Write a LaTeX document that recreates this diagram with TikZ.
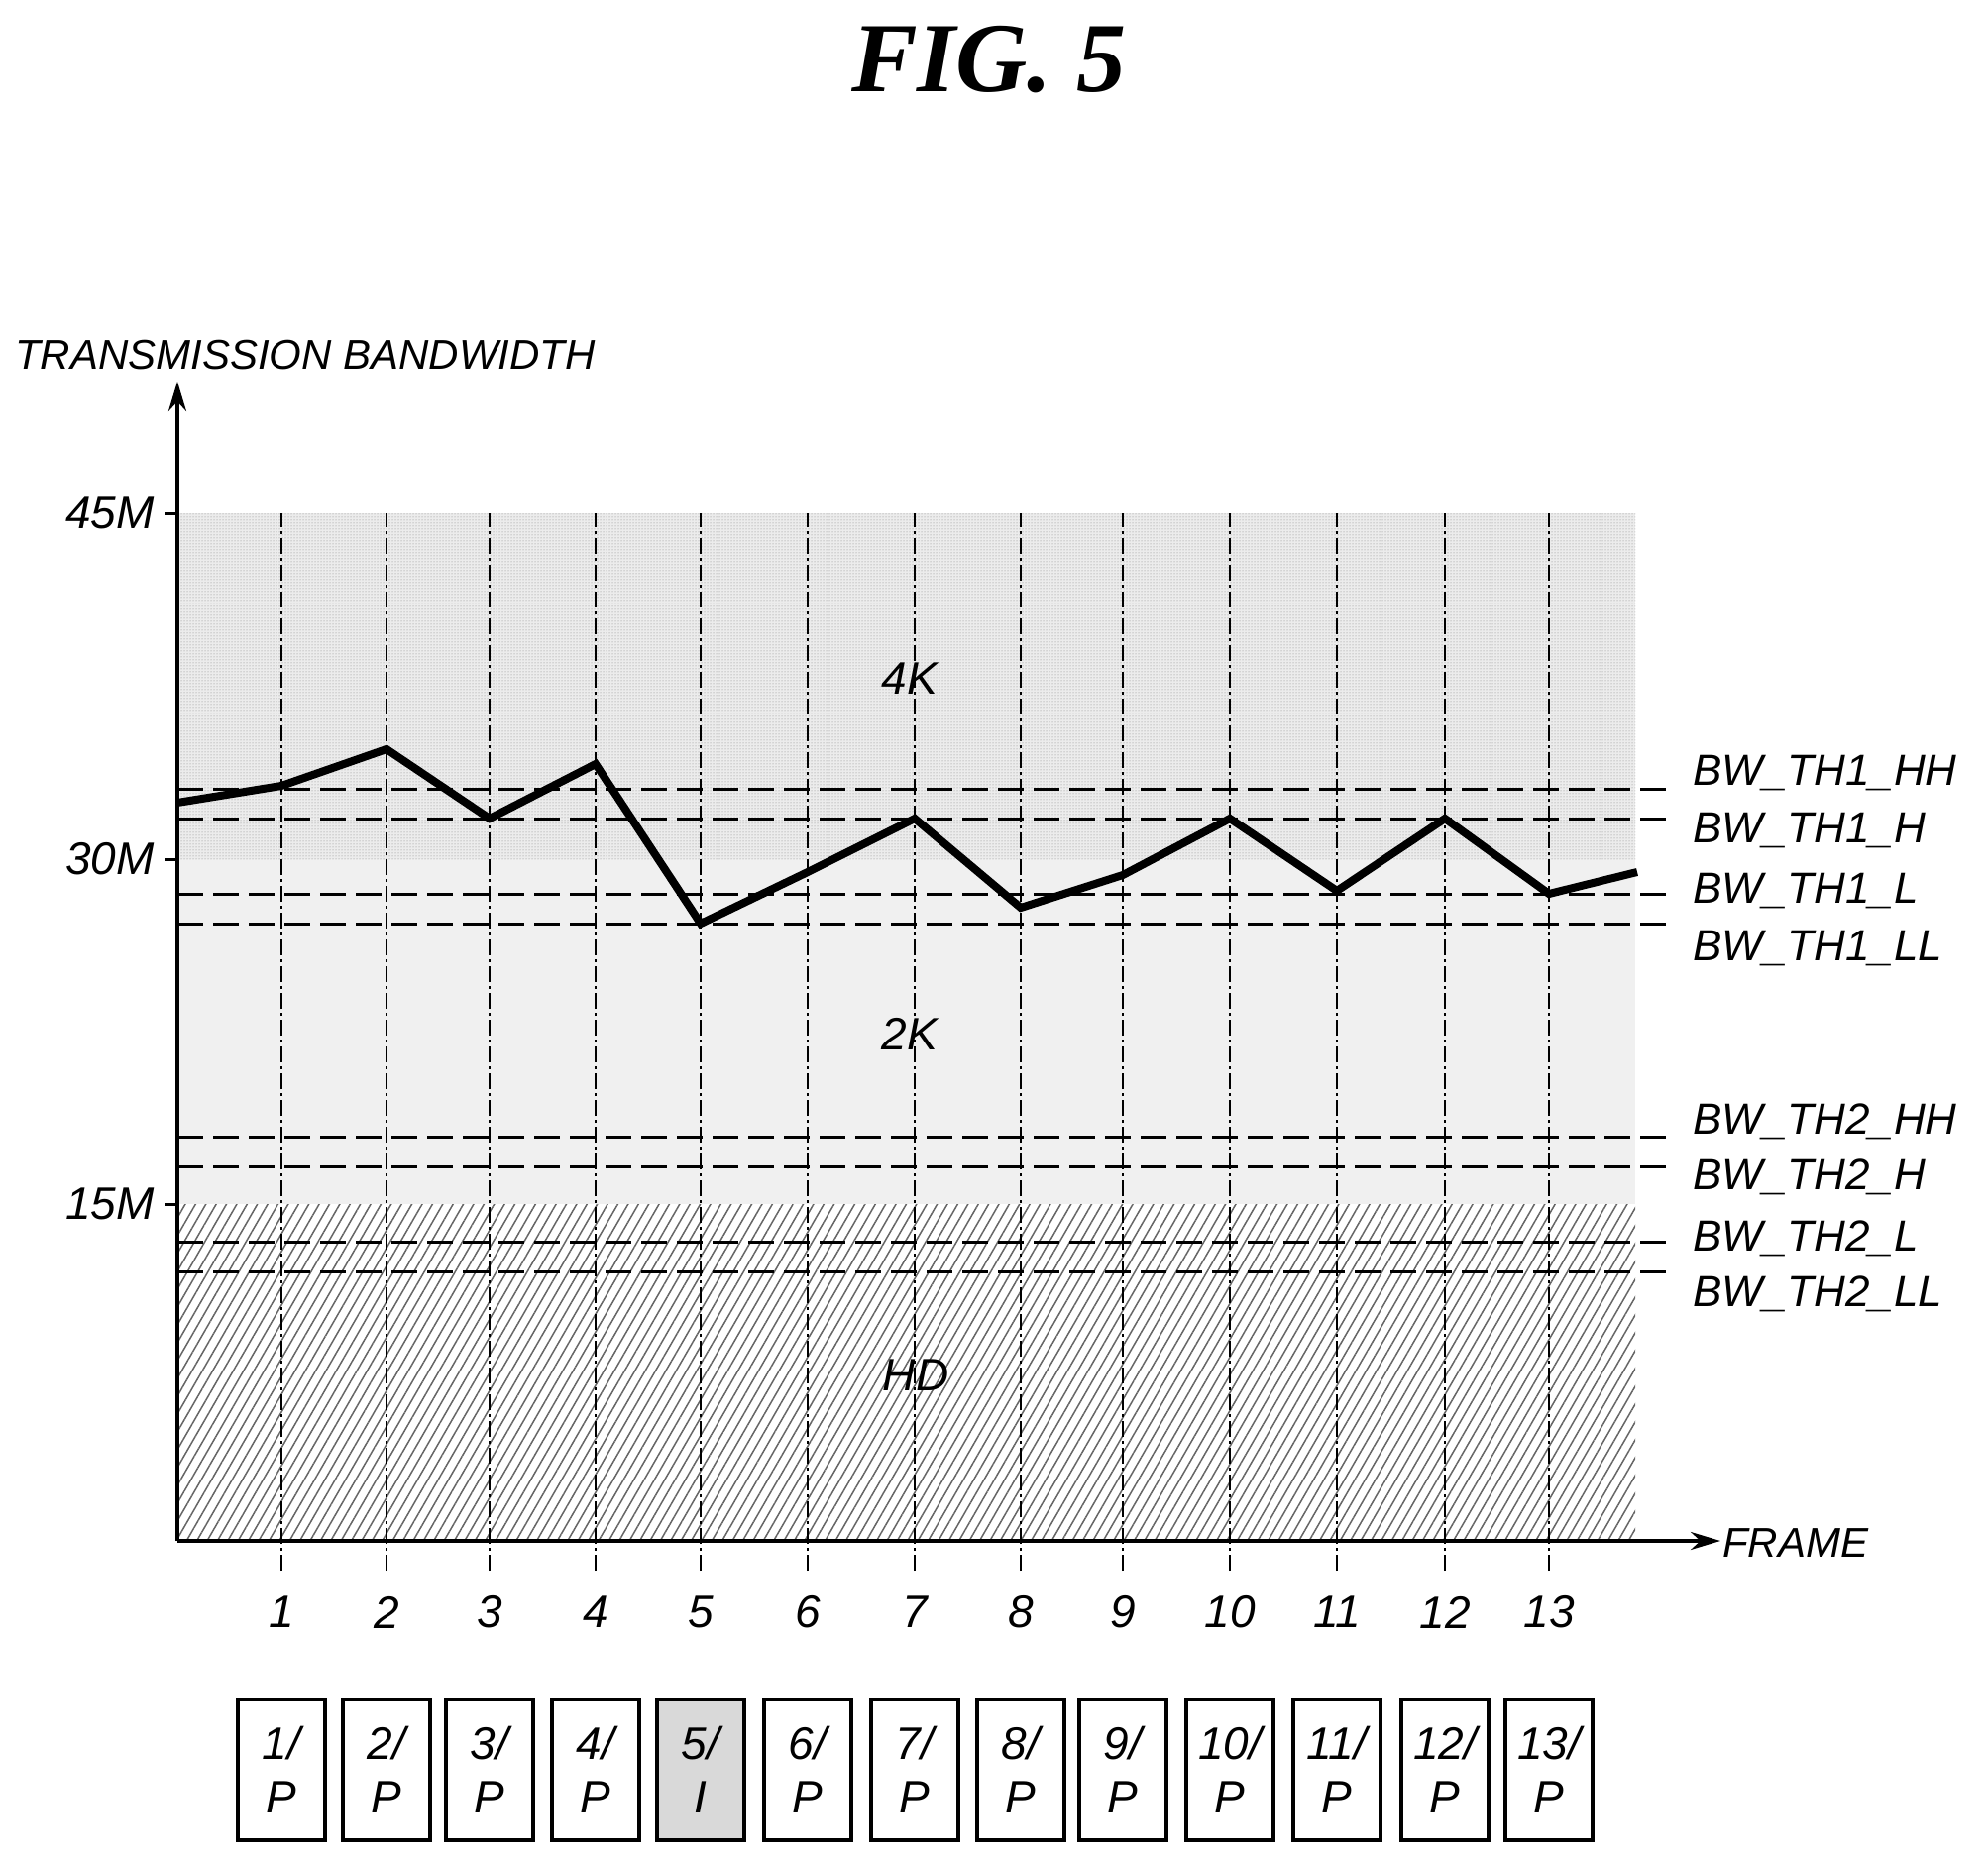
\documentclass[tikz,border=0pt]{standalone}
\usepackage{fontspec}
\setmainfont{Liberation Sans}
\newfontfamily\titlefont{Liberation Serif}
\usetikzlibrary{patterns,patterns.meta,arrows.meta}
\begin{document}
\begin{tikzpicture}[x=1pt,y=-1pt,
  lab/.style={font=\fontsize{46}{46}\selectfont\itshape, inner sep=0pt},
  thl/.style={font=\fontsize{44}{44}\selectfont\itshape, inner sep=0pt, anchor=west},
  th/.style={dash pattern=on 26pt off 10pt, line width=3pt},
  grid/.style={dash pattern=on 16pt off 4pt on 3pt off 4pt, line width=2pt},
  fbox/.style={draw, line width=3.2pt, minimum width=88pt, minimum height=142pt, inner sep=0pt, align=center, font=\fontsize{46}{54}\selectfont\itshape}]
\useasboundingbox (0,0) rectangle (2006,1881);
% regions
\fill[gray!12] (179,867) rectangle (1650,1215);
\fill[gray!15] (179,518) rectangle (1650,867);
\fill[pattern=dots, pattern color=gray] (179,518) rectangle (1650,867);
\fill[pattern={Lines[angle=60,distance=9pt,line width=1.5pt]}, pattern color=gray!80!black] (179,1215) rectangle (1650,1555);
% grid
\foreach \x in {284,390,494,601,707,815,923,1030,1133,1241,1349,1458,1563}
  \draw[grid] (\x,1585) -- (\x,518);
% title & axis labels
\node[font=\titlefont\fontsize{100}{100}\selectfont\bfseries\itshape] (title) at (998,60) {FIG. 5};
\node[lab, anchor=west, font=\fontsize{42}{42}\selectfont\itshape] (ylab) at (15,358) {TRANSMISSION BANDWIDTH};
\node[lab, anchor=west, font=\fontsize{42}{42}\selectfont\itshape] (xlab) at (1738,1557) {FRAME};
\coordinate (o) at (179,1555);
\coordinate (ytop) at (179,385);
\coordinate (xend) at (1736,1555);
\draw[line width=3.5pt, -{Stealth[length=30pt,width=18pt]}] (o) -- (ytop);
\draw[line width=3.5pt, -{Stealth[length=30pt,width=18pt]}] (o) -- (xend);
% y ticks
\foreach \y/\t/\n in {518/45M/a,867/30M/b,1215/15M/c}{
  \draw[line width=3pt] (166,\y) -- (179,\y);
  \node[lab, anchor=east] (tick\n) at (156,\y) {\t};
}
% thresholds
\foreach \y/\ly/\t/\n in {796/780/BW\_TH1\_HH/a,826/838/BW\_TH1\_H/b,902/899/BW\_TH1\_L/c,932/957/BW\_TH1\_LL/d,1147/1132/BW\_TH2\_HH/e,1177/1188/BW\_TH2\_H/f,1253/1250/BW\_TH2\_L/g,1283/1306/BW\_TH2\_LL/h}{
  \node[thl] (th\n) at (1708,\ly) {\t};
  \coordinate (ths\n) at (179,\y);
  \coordinate (the\n) at (1690,\y);
  \draw[th] (ths\n) -- (the\n);
}
% region labels
\node[lab] (k4) at (918,685) {4K};
\node[lab] (k2) at (918,1043) {2K};
\node[lab] (hd) at (924,1388) {HD};
% bandwidth curve
\coordinate (p0) at (179,810);
\coordinate (p1) at (284,793);
\coordinate (p2) at (390,756);
\coordinate (p3) at (494,826);
\coordinate (p4) at (601,771);
\coordinate (p5) at (707,932);
\coordinate (p6) at (815,880);
\coordinate (p7) at (923,826);
\coordinate (p8) at (1030,916);
\coordinate (p9) at (1133,883);
\coordinate (p10) at (1241,826);
\coordinate (p11) at (1349,899);
\coordinate (p12) at (1458,826);
\coordinate (p13) at (1563,902);
\coordinate (p14) at (1652,880);
\draw[line width=8pt, line join=miter] (p0)--(p1)--(p2)--(p3)--(p4)--(p5)--(p6)--(p7)--(p8)--(p9)--(p10)--(p11)--(p12)--(p13)--(p14);
% frame numbers and boxes
\foreach \x [count=\i] in {284,390,494,601,707,815,923,1030,1133,1241,1349,1458,1563}{
  \node[lab] (n\i) at (\x,1627) {\i};
  \ifnum\i=5
    \node[fbox, fill=gray!30] (b\i) at (\x,1786) {\i/\\ I};
  \else
    \node[fbox] (b\i) at (\x,1786) {\i/\\ P};
  \fi
}
\end{tikzpicture}
\end{document}
